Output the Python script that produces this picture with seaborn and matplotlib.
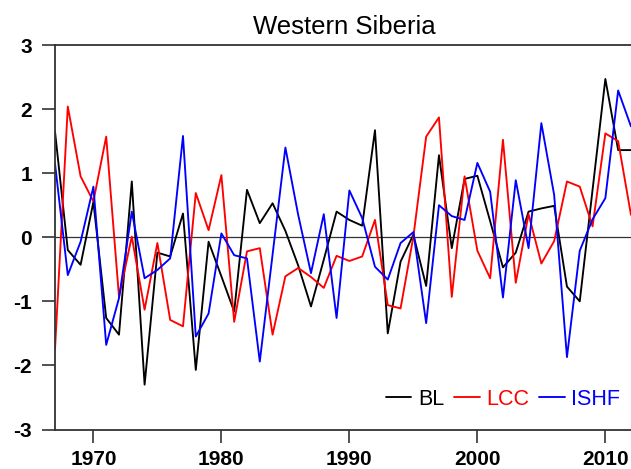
import numpy as np
import pandas as pd
import matplotlib
matplotlib.use("Agg")
import matplotlib.pyplot as plt
import seaborn as sns
from matplotlib.lines import Line2D

years = list(range(1967, 2013))

bl = [1.65, -0.20, -0.43, 0.55, -1.26, -1.52, 0.87, -2.30, -0.24, -0.30,
      0.37, -2.07, -0.07, -0.61, -1.16, 0.74, 0.22, 0.53, 0.10, -0.44,
      -1.08, -0.35, 0.40, 0.27, 0.18, 1.67, -1.50, -0.38, 0.04, -0.76,
      1.28, -0.17, 0.91, 0.96, 0.25, -0.47, -0.24, 0.40, 0.45, 0.49,
      -0.77, -1.00, 0.74, 2.47, 1.36, 1.36]

lcc = [-1.75, 2.04, 0.95, 0.56, 1.57, -0.93, 0.01, -1.13, -0.09, -1.29,
       -1.39, 0.69, 0.11, 0.97, -1.32, -0.22, -0.17, -1.52, -0.61, -0.48,
       -0.62, -0.79, -0.29, -0.37, -0.30, 0.27, -1.06, -1.11, 0.01, 1.57,
       1.87, -0.93, 0.95, -0.21, -0.64, 1.52, -0.71, 0.36, -0.41, -0.06,
       0.87, 0.79, 0.17, 1.62, 1.50, 0.35]

ishf = [1.15, -0.59, -0.07, 0.79, -1.68, -0.95, 0.40, -0.64, -0.51, -0.33,
        1.58, -1.55, -1.19, 0.06, -0.28, -0.33, -1.94, -0.27, 1.40, 0.35,
        -0.56, 0.36, -1.26, 0.73, 0.30, -0.46, -0.66, -0.09, 0.08, -1.34,
        0.50, 0.33, 0.27, 1.16, 0.71, -0.94, 0.89, -0.17, 1.78, 0.66,
        -1.87, -0.21, 0.28, 0.61, 2.29, 1.73]

series_names = ["BL", "LCC", "ISHF"]
series_colors = ["#000000", "#ff0000", "#0000ff"]
xticks = [1970, 1980, 1990, 2000, 2010]
yticks = [-3, -2, -1, 0, 1, 2, 3]
title = "Western Siberia"

df = pd.DataFrame({
    "year": years * 3,
    "value": bl + lcc + ishf,
    "series": [n for n in series_names for _ in years],
})

sns.set_style("ticks")
plt.rcParams["font.family"] = ["Liberation Sans", "DejaVu Sans"]
plt.rcParams["axes.unicode_minus"] = False
plt.rcParams["text.color"] = "black"
plt.rcParams["xtick.labelcolor"] = "black"
plt.rcParams["ytick.labelcolor"] = "black"

W, H = 631, 469
fig = plt.figure(figsize=(W / 100, H / 100), dpi=100)
ax = fig.add_axes([55 / W, (H - 429.5) / H, 578 / W, 384.5 / H])

ax.axhline(0, color="#333333", lw=0.9, zorder=1)

sns.lineplot(data=df, x="year", y="value", hue="series",
             hue_order=series_names, palette=series_colors,
             lw=1.35, ax=ax, legend=False, zorder=2)

ax.set_xlim(1967, 2012.16)
ax.set_ylim(-3, 3)
ax.set_xticks(xticks)
ax.set_yticks(yticks)
ax.set_xlabel("")
ax.set_ylabel("")

for s in ax.spines.values():
    s.set_linewidth(1.3)
    s.set_color("#333333")
    s.set_visible(True)

ax.tick_params(axis="both", direction="out", length=9.5, width=1.2,
               color="#333333", labelsize=15, labelcolor="black")
ax.tick_params(axis="y", pad=7)
ax.tick_params(axis="x", pad=5)
for lab in ax.get_xticklabels() + ax.get_yticklabels():
    lab.set_fontweight("bold")

ax.set_title(title, fontsize=18.5, pad=8, color="black")

handles = [Line2D([0], [0], color=c, lw=1.35) for c in series_colors]
leg = ax.legend(handles, series_names, ncol=3, frameon=False,
                loc="lower right",
                bbox_to_anchor=((620 - 55) / 578, (429.5 - 410) / 384.5),
                borderaxespad=0, borderpad=0,
                fontsize=15.5, handlelength=1.2, handletextpad=0.3,
                columnspacing=0.45, labelcolor=series_colors)

fig.savefig("out.png", dpi=100)
